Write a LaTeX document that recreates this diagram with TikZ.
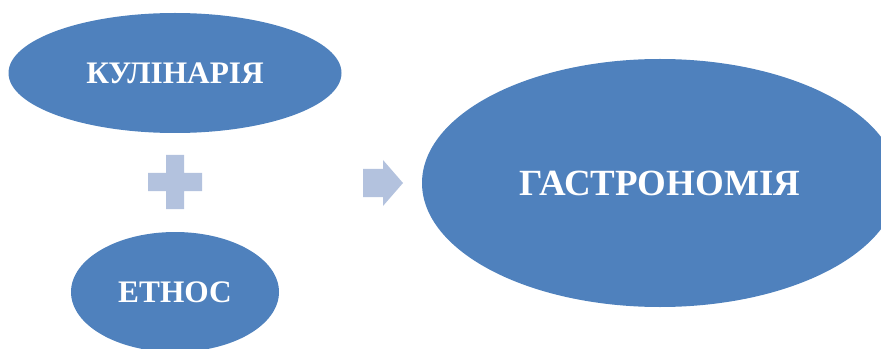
\documentclass[tikz,border=0pt]{standalone}
\usepackage{fontspec}
\setmainfont{Liberation Serif}
\usetikzlibrary{shapes.geometric}
\definecolor{blob}{RGB}{79,129,189}
\definecolor{sign}{RGB}{179,194,222}
\tikzset{blob/.style = {ellipse, fill=blob, text=white, inner sep=0pt,
                        font=\bfseries\fontsize{23.5}{26}\selectfont}}
\begin{document}
\begin{tikzpicture}[x=0.75pt, y=-0.75pt]
			\useasboundingbox (0, 0) rectangle (881, 349);
			\node [blob, minimum width=249.75pt, minimum height=90pt] (0) at (175, 73) {КУЛІНАРІЯ};
			\node [blob, minimum width=156pt, minimum height=90pt] (1) at (175, 292) {ЕТНОС};
			\node [blob, minimum width=357pt, minimum height=186pt,
			       font=\bfseries\fontsize{27.7}{30}\selectfont] (2) at (660, 183) {ГАСТРОНОМІЯ};
			\fill [sign] (166, 155) -- (184, 155) -- (184, 173) -- (202, 173) -- (202, 191) -- (184, 191)
			             -- (184, 209) -- (166, 209) -- (166, 191) -- (148, 191) -- (148, 173) -- (166, 173) -- cycle;
			\fill [sign] (363, 169) -- (383, 169) -- (383, 160) -- (403, 183) -- (383, 206) -- (383, 197)
			             -- (363, 197) -- cycle;
		\end{tikzpicture}
\end{document}
